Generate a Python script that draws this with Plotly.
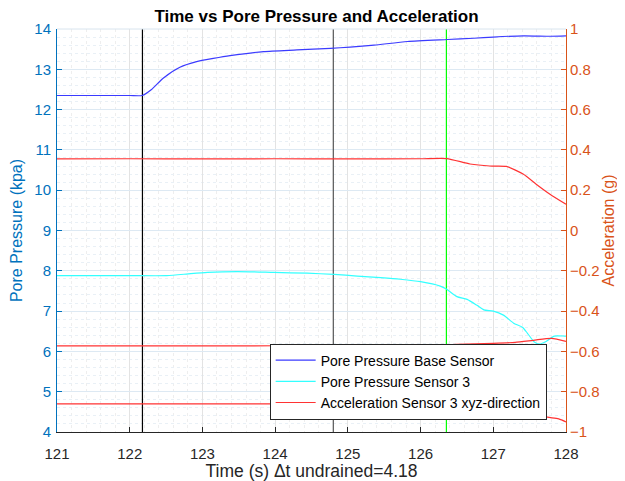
import plotly.graph_objects as go

# ---- data ----
t_base = [121.0, 121.5, 122.0, 122.17, 122.3, 122.46, 122.69, 122.92, 123.15, 123.38, 123.84,
          124.30, 124.76, 125.03, 125.36, 125.82, 126.37, 126.73, 127.0, 127.42, 127.79, 128.0]
p_base = [12.35, 12.35, 12.35, 12.35, 12.5, 12.78, 13.05, 13.19, 13.27, 13.34, 13.44,
          13.48, 13.52, 13.55, 13.60, 13.69, 13.74, 13.77, 13.80, 13.83, 13.82, 13.83]

t_s3 = [121.0, 121.5, 122.0, 122.51, 122.84, 123.07, 123.48, 123.98, 124.44, 124.81, 125.13,
        125.45, 125.72, 126.0, 126.27, 126.36, 126.5, 126.64, 126.77, 126.87, 127.0, 127.14,
        127.28, 127.40, 127.47, 127.56, 127.63, 127.72, 127.84, 127.98, 128.0]
p_s3 = [7.88, 7.88, 7.88, 7.88, 7.93, 7.96, 7.98, 7.96, 7.94, 7.91, 7.87,
        7.83, 7.79, 7.73, 7.62, 7.54, 7.36, 7.29, 7.15, 7.03, 7.00, 6.90,
        6.70, 6.60, 6.45, 6.24, 6.18, 6.24, 6.38, 6.38, 6.38]

t_acc_a = [121.0, 122.0, 123.0, 124.0, 125.0, 126.0, 126.36, 126.68, 126.95, 127.18, 127.41,
           127.59, 127.78, 128.0]
acc_a = [0.355, 0.356, 0.355, 0.356, 0.355, 0.356, 0.357, 0.33, 0.32, 0.318, 0.28,
         0.23, 0.18, 0.13]

t_acc_b = [121.0, 122.0, 123.0, 124.0, 125.0, 126.0, 126.5, 127.0, 127.3, 127.55, 127.8, 128.0]
acc_b = [-0.573, -0.573, -0.573, -0.572, -0.573, -0.572, -0.565, -0.56, -0.555, -0.545, -0.535, -0.55]

t_acc_c = [121.0, 122.0, 123.0, 124.0, 125.0, 126.0, 126.5, 127.0, 127.5, 127.9, 128.0]
acc_c = [-0.86, -0.86, -0.86, -0.86, -0.86, -0.862, -0.87, -0.89, -0.915, -0.935, -0.95]

marker_times = [122.175, 124.80, 126.355]
marker_colors = ["#000000", "#555555", "#00ff00"]

title = "Time vs Pore Pressure and Acceleration"
xlabel = "Time (s) \u0394t undrained=4.18"

LBLUE = "#0072BD"
ORANGE = "#D95319"
FONT = "Liberation Sans, Arial, Helvetica, sans-serif"

fig = go.Figure()

# vertical marker lines
for tm, c in zip(marker_times, marker_colors):
    fig.add_trace(go.Scatter(x=[tm, tm], y=[4, 14], mode="lines",
                             line=dict(color=c, width=1.2), showlegend=False,
                             hoverinfo="skip"))

fig.add_trace(go.Scatter(x=t_base, y=p_base, mode="lines", name="Pore Pressure Base Sensor",
                         line=dict(color="#3b3bff", width=1.2, shape="spline", smoothing=0.6)))
fig.add_trace(go.Scatter(x=t_s3, y=p_s3, mode="lines", name="Pore Pressure Sensor 3",
                         line=dict(color="#33ffff", width=1.2, shape="spline", smoothing=0.6)))
fig.add_trace(go.Scatter(x=t_acc_a, y=acc_a, mode="lines", name="Acceleration Sensor 3 xyz-direction",
                         yaxis="y2", line=dict(color="#ff3333", width=1.2, shape="spline", smoothing=0.6)))
fig.add_trace(go.Scatter(x=t_acc_b, y=acc_b, mode="lines", showlegend=False,
                         yaxis="y2", line=dict(color="#ff3333", width=1.2, shape="spline", smoothing=0.6)))
fig.add_trace(go.Scatter(x=t_acc_c, y=acc_c, mode="lines", showlegend=False,
                         yaxis="y2", line=dict(color="#ff3333", width=1.2, shape="spline", smoothing=0.6)))

# the page body adds an 8px offset, so the figure is made 8px smaller
fig.update_layout(
    width=617, height=473,
    margin=dict(l=49, r=59, t=21, b=49),
    paper_bgcolor="white", plot_bgcolor="white",
    font=dict(family=FONT, size=15, color="#262626"),
    title=dict(text="<b>" + title + "</b>", x=0.5, xanchor="center", y=0.996, yanchor="top",
               font=dict(size=17, color="#000000")),
    showlegend=True,
    legend=dict(x=0.962, y=0.031, xanchor="right", yanchor="bottom",
                bgcolor="white", bordercolor="#262626", borderwidth=1,
                font=dict(size=14, color="#000000"), tracegroupgap=0,
                itemwidth=40),
    xaxis=dict(range=[121, 128], dtick=1, tick0=121, ticks="inside", ticklen=5,
               tickcolor="#262626", linecolor="#262626", showline=True, linewidth=1,
               showgrid=True, gridcolor="#e3e3e3", gridwidth=1, zeroline=False,
               automargin=False, ticklabelstandoff=8,
               title=dict(text=xlabel, standoff=4, font=dict(size=17.5, color="#262626")),
               tickfont=dict(size=15, color="#262626"),
               minor=dict(dtick=0.2, showgrid=True, gridcolor="#eeeeee", griddash="dot",
                          ticks="")),
    yaxis=dict(range=[4, 14], dtick=1, ticks="inside", ticklen=5, tickcolor=LBLUE,
               linecolor=LBLUE, showline=True, linewidth=1, automargin=False,
               ticklabelstandoff=2,
               showgrid=True, gridcolor="#dde9f3", gridwidth=1, zeroline=False,
               title=dict(text="Pore Pressure (kpa)", standoff=8, font=dict(size=16, color=LBLUE)),
               tickfont=dict(size=15, color=LBLUE),
               minor=dict(dtick=0.2, showgrid=True, gridcolor="#e9f0f6", griddash="dot",
                          ticks="")),
    yaxis2=dict(range=[-1, 1], dtick=0.2, overlaying="y", side="right", anchor="x",
                ticks="inside", ticklen=5, tickcolor=ORANGE, linecolor=ORANGE,
                showline=True, linewidth=1, showgrid=False, zeroline=False, automargin=False,
                title=dict(text="Acceleration (g)", standoff=4, font=dict(size=16, color=ORANGE)),
                tickfont=dict(size=15, color=ORANGE)),
    shapes=[dict(type="line", xref="paper", yref="paper", x0=0, x1=1, y0=1, y1=1,
                 line=dict(color="#d8e4ee", width=1))],
)

fig.write_html("out.html")
